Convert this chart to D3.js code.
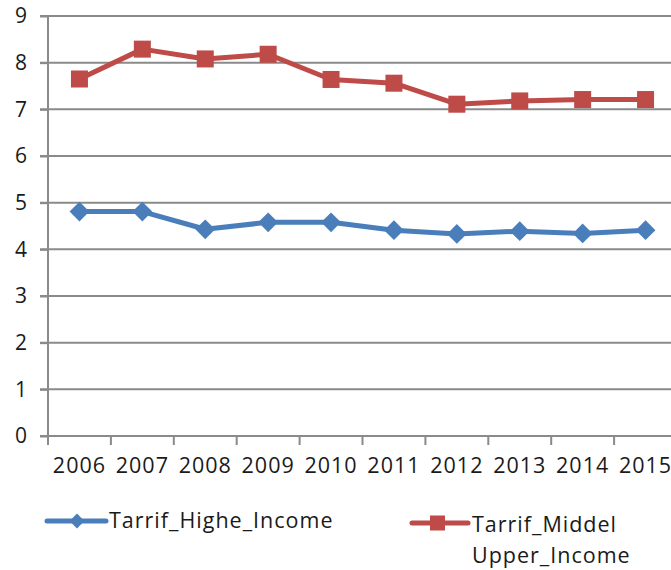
<!DOCTYPE html>
<html>
<head>
<meta charset="utf-8">
<script src="https://cdn.jsdelivr.net/npm/d3@7"></script>
<style>
  html, body { margin: 0; padding: 0; background: #fff; }
  svg { display: block; }
  text { font-family: "Open Sans", "Liberation Sans", sans-serif; fill: #1a1a1a; }
</style>
</head>
<body>
<svg id="chart" width="671" height="570"></svg>
<script>
// Tariff rates by year for two income groups
const years = ["2006", "2007", "2008", "2009", "2010", "2011", "2012", "2013", "2014", "2015"];
const highIncome = [4.81, 4.81, 4.43, 4.58, 4.58, 4.41, 4.33, 4.39, 4.34, 4.41];
const middleUpperIncome = [7.65, 8.29, 8.08, 8.18, 7.64, 7.56, 7.11, 7.18, 7.21, 7.21];
const yTicks = [0, 1, 2, 3, 4, 5, 6, 7, 8, 9];
const seriesNames = ["Tarrif_Highe_Income", "Tarrif_Middel Upper_Income"];

const svg = d3.select("#chart");
const gridColor = "#8a8a8a";
const blue = "#4a7ebb";
const red = "#be4b48";

const x = d3.scaleBand().domain(years).range([48, 677]);
const y = d3.scaleLinear().domain([0, 9]).range([436, 16]);

// horizontal gridlines
svg.append("g")
  .selectAll("line")
  .data(yTicks.filter(d => d > 0))
  .join("line")
  .attr("x1", 40).attr("x2", 671)
  .attr("y1", d => y(d)).attr("y2", d => y(d))
  .attr("stroke", gridColor).attr("stroke-width", 2);

// y axis
const yAxis = svg.append("g")
  .attr("transform", "translate(48,0)")
  .call(d3.axisLeft(y).tickValues(yTicks).tickSize(8).tickPadding(13).tickFormat(d3.format("d")));
yAxis.select(".domain").remove();
yAxis.append("line").attr("x1", 0).attr("x2", 0).attr("y1", 16).attr("y2", 445)
  .attr("stroke", gridColor).attr("stroke-width", 2);
yAxis.selectAll(".tick line").attr("stroke", gridColor).attr("stroke-width", 2);
yAxis.selectAll(".tick text").style("font-size", "21px").attr("fill", "#1a1a1a");

// x axis
const xAxis = svg.append("g")
  .attr("transform", "translate(0,436)")
  .call(d3.axisBottom(x).tickSize(0).tickPadding(0));
xAxis.select(".domain").remove();
xAxis.append("line").attr("x1", 40).attr("x2", 671).attr("y1", 0).attr("y2", 0)
  .attr("stroke", gridColor).attr("stroke-width", 2);
xAxis.selectAll(".tick text").attr("dy", null).attr("y", 37)
  .style("font-size", "21.5px").style("letter-spacing", "1px").attr("fill", "#1a1a1a");
// tick marks at category boundaries
xAxis.append("g").selectAll("line")
  .data(years.slice(1))
  .join("line")
  .attr("x1", d => x(d)).attr("x2", d => x(d))
  .attr("y1", 0).attr("y2", 9)
  .attr("stroke", gridColor).attr("stroke-width", 2);

const cx = (d, i) => x(years[i]) + x.bandwidth() / 2;
const line = d3.line().x((d, i) => cx(d, i)).y(d => y(d));

// blue series with diamonds
svg.append("path").datum(highIncome)
  .attr("d", line).attr("fill", "none").attr("stroke", blue)
  .attr("stroke-width", 5).attr("stroke-linejoin", "round");
const diamond = d3.symbol().type(d3.symbolSquare).size(195);
svg.append("g").selectAll("path")
  .data(highIncome)
  .join("path")
  .attr("d", diamond)
  .attr("transform", (d, i) => `translate(${cx(d, i)},${y(d)}) rotate(45)`)
  .attr("fill", blue);

// red series with squares
svg.append("path").datum(middleUpperIncome)
  .attr("d", line).attr("fill", "none").attr("stroke", red)
  .attr("stroke-width", 5).attr("stroke-linejoin", "round");
svg.append("g").selectAll("rect")
  .data(middleUpperIncome)
  .join("rect")
  .attr("x", (d, i) => cx(d, i) - 8.5).attr("y", d => y(d) - 8.5)
  .attr("width", 17).attr("height", 17)
  .attr("fill", red);

// legend
const leg1 = svg.append("g");
leg1.append("line").attr("x1", 47).attr("x2", 106).attr("y1", 521).attr("y2", 521)
  .attr("stroke", blue).attr("stroke-width", 5).attr("stroke-linecap", "round");
leg1.append("path").attr("d", d3.symbol().type(d3.symbolSquare).size(110))
  .attr("transform", "translate(77,521) rotate(45)").attr("fill", blue);
leg1.append("text").attr("x", 109).attr("y", 527.5)
  .style("font-size", "21.5px").style("letter-spacing", "1px")
  .text(seriesNames[0]);

const leg2 = svg.append("g");
leg2.append("line").attr("x1", 412).attr("x2", 468).attr("y1", 523).attr("y2", 523)
  .attr("stroke", red).attr("stroke-width", 5).attr("stroke-linecap", "round");
leg2.append("rect").attr("x", 430).attr("y", 515.5).attr("width", 15).attr("height", 15)
  .attr("fill", red);
const t2 = leg2.append("text").style("font-size", "21.5px").style("letter-spacing", "1px");
seriesNames[1].split(" ").forEach((w, i) => {
  t2.append("tspan").attr("x", 472).attr("y", 531.5 + i * 31.5).text(w);
});
</script>
</body>
</html>
